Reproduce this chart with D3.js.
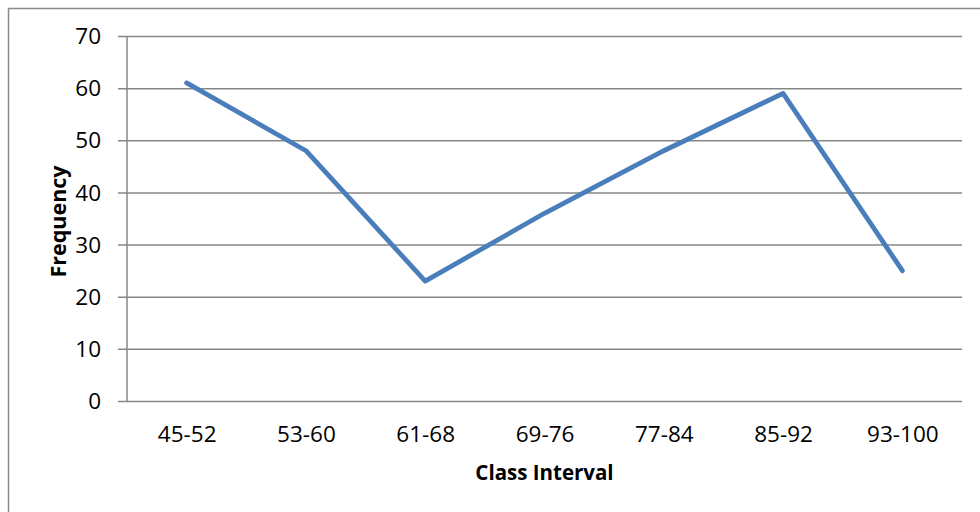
<!DOCTYPE html>
<html>
<head>
<meta charset="utf-8">
<script src="https://cdn.jsdelivr.net/npm/d3@7"></script>
<style>
  html, body { margin: 0; padding: 0; background: #fff; }
  svg { display: block; }
  text { font-family: "Open Sans", "Liberation Sans", sans-serif; fill: #000; }
</style>
</head>
<body>
<svg id="chart" width="980" height="512"></svg>
<script>
// Frequency distribution by class interval
const classIntervals = ["45-52", "53-60", "61-68", "69-76", "77-84", "85-92", "93-100"];
const frequencies = [61, 48, 23, 36, 48, 59, 25];
const yTicks = [0, 10, 20, 30, 40, 50, 60, 70];

const svg = d3.select("#chart");
const W = 980, H = 512;
const plot = { left: 127, right: 962, top: 36, bottom: 401 };

// Outer chart frame
svg.append("rect")
  .attr("x", 8.5).attr("y", 8.5)
  .attr("width", W + 10).attr("height", H + 10)
  .attr("fill", "none").attr("stroke", "#8a8a8a").attr("stroke-width", 1.5);

const x = d3.scalePoint()
  .domain(classIntervals)
  .range([plot.left, plot.right])
  .padding(0.5);

const y = d3.scaleLinear()
  .domain([0, 70])
  .range([plot.bottom, plot.top]);

// Horizontal gridlines with short tick marks to the left of the axis
const yAxis = d3.axisLeft(y)
  .tickValues(yTicks)
  .tickSize(-(plot.right - plot.left))
  .tickPadding(17)
  .tickFormat(d3.format("d"));

const gy = svg.append("g")
  .attr("transform", `translate(${plot.left},0)`)
  .call(yAxis);
gy.select(".domain").remove();
gy.selectAll(".tick line")
  .attr("x1", -9)
  .attr("stroke", "#868686")
  .attr("stroke-width", 1.5);
gy.selectAll(".tick text")
  .attr("font-size", 22.5)
  .attr("x", -26)
  .attr("dy", "0.34em");

// Vertical axis line
svg.append("line")
  .attr("x1", plot.left).attr("x2", plot.left)
  .attr("y1", plot.top).attr("y2", plot.bottom)
  .attr("stroke", "#868686").attr("stroke-width", 1.5);

// Category labels
const xAxis = d3.axisBottom(x).tickSize(0).tickPadding(0);
const gx = svg.append("g")
  .attr("transform", `translate(0,${plot.bottom})`)
  .call(xAxis);
gx.select(".domain").remove();
gx.selectAll(".tick text")
  .attr("font-size", 22.5)
  .attr("y", 41)
  .attr("dy", 0);

// Frequency polygon
const line = d3.line()
  .x((d, i) => x(classIntervals[i]))
  .y(d => y(d));

svg.append("path")
  .datum(frequencies)
  .attr("d", line)
  .attr("fill", "none")
  .attr("stroke", "#4a7ebb")
  .attr("stroke-width", 4.8)
  .attr("stroke-linejoin", "round")
  .attr("stroke-linecap", "round");

// Axis titles
svg.append("text")
  .attr("x", (plot.left + plot.right) / 2)
  .attr("y", 480)
  .attr("text-anchor", "middle")
  .attr("font-size", 20.5)
  .attr("font-weight", "bold")
  .text("Class Interval");

svg.append("text")
  .attr("transform", `translate(66,${(plot.top + plot.bottom) / 2 + 3}) rotate(-90)`)
  .attr("text-anchor", "middle")
  .attr("font-size", 21.5)
  .attr("font-weight", "bold")
  .text("Frequency");
</script>
</body>
</html>
